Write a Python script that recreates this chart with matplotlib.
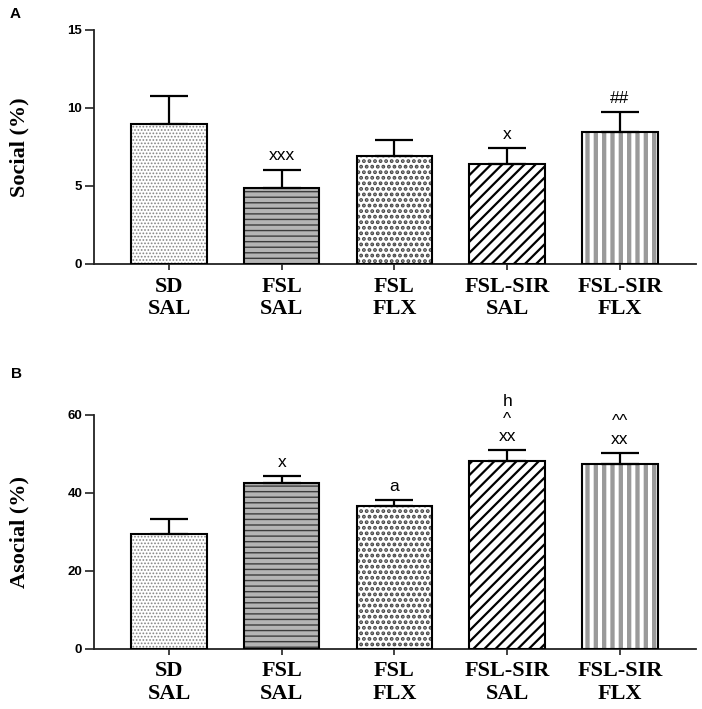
import matplotlib
matplotlib.use("Agg")
import matplotlib.pyplot as plt
import numpy as np

# data
groups = ["SD\nSAL", "FSL\nSAL", "FSL\nFLX", "FSL-SIR\nSAL", "FSL-SIR\nFLX"]
social = [9.0, 4.88, 6.93, 6.4, 8.45]
social_err = [1.78, 1.17, 1.04, 1.03, 1.3]
asocial = [29.4, 42.4, 36.5, 48.0, 47.4]
asocial_err = [3.75, 1.75, 1.45, 2.8, 2.75]
social_marks = [[], ["xxx"], [], ["x"], ["##"]]
asocial_marks = [[], ["x"], ["a"], ["xx", "^", "h"], ["xx", "^^"]]

# bar fill styles: face, hatch, hatch colour, hatch linewidth
styles = [
    ("white", ".....", "#858585", 0.8),
    ("#b4b4b4", "---", "#3c3c3c", 1.0),
    ("white", "...", "#454545", 1.9),
    ("white", "///", "black", 1.6),
    ("white", "||", "#9a9a9a", 3.1),
]

serif = "Liberation Serif"
sans = "Liberation Sans"

fig = plt.figure(figsize=(7.02, 7.09), dpi=100)
axA = fig.add_axes([94 / 702, 1 - 264 / 709, 602 / 702, 234 / 709])
axB = fig.add_axes([94 / 702, 1 - 648.5 / 709, 602 / 702, 234 / 709])


def draw_panel(ax, vals, errs, marks, ymax, yticks, ylabel):
    x = np.arange(len(vals))
    w = 0.67
    for i in range(len(vals)):
        face, hatch, hcol, hlw = styles[i]
        with plt.rc_context({"hatch.linewidth": hlw}):
            b = ax.bar(x[i], vals[i], w, color=face, edgecolor=hcol, hatch=hatch,
                       linewidth=0, zorder=2)
        for p in b:
            if hasattr(p, "set_hatch_linewidth"):
                p.set_hatch_linewidth(hlw)
    ax.bar(x, vals, w, fill=False, edgecolor="black", linewidth=1.5, zorder=3)
    ax.errorbar(x, vals, yerr=[np.zeros(len(errs)), errs], fmt="none",
                ecolor="black", elinewidth=1.6, capsize=13.5, capthick=1.6, zorder=4)
    # significance marks stacked above the error cap (one text per bar)
    for i in range(len(vals)):
        if marks[i]:
            ax.annotate("\n".join(marks[i][::-1]), (x[i], vals[i] + errs[i]),
                        xytext=(0, 4.5), textcoords="offset points", ha="center",
                        va="bottom", fontsize=12.5, family=sans, linespacing=1.2)

    ax.set_xlim(-0.665, 4.675)
    ax.set_ylim(0, ymax)
    ax.set_yticks(yticks)
    ax.set_xticks(x)
    ax.set_xticklabels(groups, family=serif, fontweight="bold", fontsize=16,
                       linespacing=1.2)
    for t in ax.get_yticklabels():
        t.set_family(sans)
        t.set_fontweight("bold")
        t.set_fontsize(9.5)
    ax.spines["top"].set_visible(False)
    ax.spines["right"].set_visible(False)
    for s in ["left", "bottom"]:
        ax.spines[s].set_linewidth(1.3)
        ax.spines[s].set_color("#222222")
    ax.tick_params(axis="y", length=6.5, width=1.2, pad=2, colors="#222222")
    ax.tick_params(axis="x", length=4, width=1.2, pad=5, colors="#222222")
    for t in ax.get_xticklabels() + ax.get_yticklabels():
        t.set_color("black")
    ax.text(-75 / 602, 0.5, ylabel, transform=ax.transAxes, rotation=90,
            ha="center", va="center", family=serif, fontweight="bold", fontsize=16)


draw_panel(axA, social, social_err, social_marks, 15, [0, 5, 10, 15], "Social (%)")
draw_panel(axB, asocial, asocial_err, asocial_marks, 60, [0, 20, 40, 60], "Asocial (%)")

fig.text(10 / 702, 1 - 18.5 / 709, "A", family=sans, fontweight="bold", fontsize=11)
fig.text(11 / 702, 1 - 378.5 / 709, "B", family=sans, fontweight="bold", fontsize=11)

fig.savefig("out.png", dpi=100)
